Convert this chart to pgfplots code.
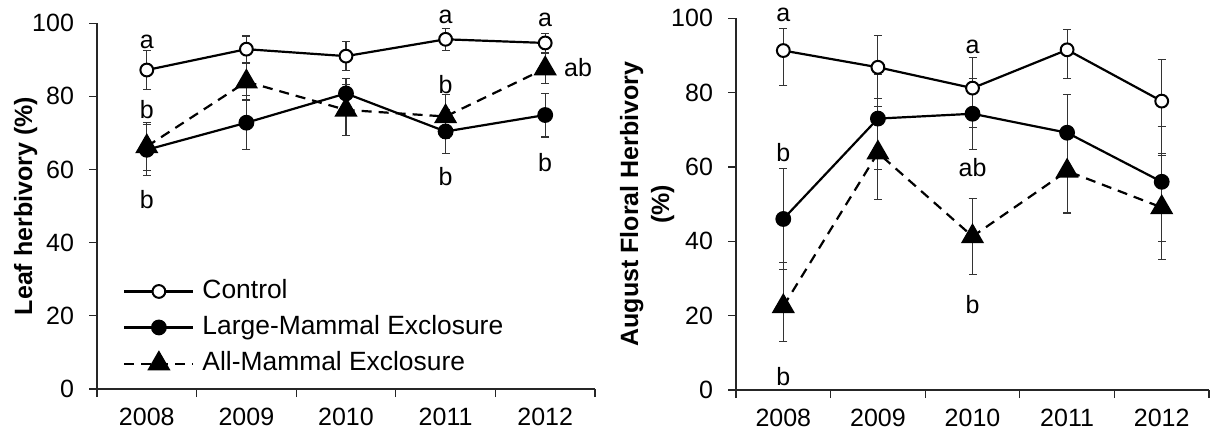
\documentclass[border=0pt]{standalone}
\usepackage{fontspec}
\setmainfont{Liberation Sans}
\usepackage{pgfplots}
\usepackage{pgfplotstable}
\pgfplotsset{compat=1.18}

% Leaf herbivory: x, mean, SE
\pgfplotstableread{
x y e
0 87.2 5.4
1 92.9 3.6
2 91.0 4.0
3 95.6 3.0
4 94.6 2.7
}\leafC
\pgfplotstableread{
x y e
0 65.4 7.0
1 72.8 7.4
2 80.8 4.0
3 70.4 6.0
4 74.9 6.0
}\leafL
\pgfplotstableread{
x y e
0 66.3 6.5
1 84.0 5.0
2 76.3 7.0
3 74.5 6.0
4 87.6 4.0
}\leafA
% August floral herbivory: x, mean, +err, -err
\pgfplotstableread{
x y ep em
0 91.3 6.0 9.4
1 86.8 8.5 8.5
2 81.2 8.2 10.5
3 91.5 5.4 7.6
4 77.7 11.3 14.0
}\florC
\pgfplotstableread{
x y ep em
0 46.0 13.6 13.7
1 73.0 11.8 13.6
2 74.3 9.5 9.5
3 69.2 10.3 10.3
4 56.0 14.8 16.1
}\florL
\pgfplotstableread{
x y ep em
0 22.5 11.8 9.5
1 63.8 12.5 12.5
2 41.3 10.3 10.3
3 58.9 11.3 11.3
4 49.1 14.0 14.0
}\florA

\newcommand{\chartfont}{\fontsize{12.5}{15.5}\selectfont}
\newcommand{\legfont}{\fontsize{13.2}{15.5}\selectfont}

\pgfplotsset{
  panel/.style={
    scale only axis,
    clip=false,
    axis x line*=bottom, axis y line*=left,
    axis line style={line width=0.6pt, black!85},
    xmin=-0.5, xmax=4.5, ymin=0, ymax=100,
    ytick={0,20,...,100},
    xtick={-0.5,0.5,...,4.5}, xticklabels={},
    extra x ticks={0,1,2,3,4},
    extra x tick labels={2008,2009,2010,2011,2012},
    extra x tick style={major tick length=0pt, xticklabel style={yshift=-6pt}},
    tick align=outside,
    major tick length=4pt,
    tick style={line width=0.6pt, black!85},
    tick label style={font=\chartfont, black},
    /pgf/number format/assume math mode=true,
    yticklabel style={xshift=-4pt},
    every axis y label/.style={rotate=90, anchor=center, font=\chartfont\bfseries, align=center},
    legend image code/.code={\draw[mark repeat=2,mark phase=2] plot coordinates {(0pt,0pt) (17.25pt,0pt) (34.5pt,0pt)};},
  },
  ctrl/.style={black, line width=1.1pt, mark=*, mark size=3.2pt, mark options={fill=white, solid, line width=1pt}},
  large/.style={black, line width=1.1pt, mark=*, mark size=3.4pt, mark options={fill=black, solid}},
  allm/.style={black, line width=1.1pt, dash pattern=on 5pt off 3.5pt, mark=triangle*, mark size=5.6pt, mark options={fill=black, solid}},
  eb/.style={error bars/.cd, y dir=both, y explicit,
    error bar style={line width=0.55pt, black!80, solid},
    error mark options={rotate=90, mark size=2pt, line width=0.55pt, black!80, solid}},
}

\begin{document}
\begin{tikzpicture}
\useasboundingbox (0,0) rectangle (609.5pt,218pt);

% ---------------- Left panel ----------------
\begin{axis}[panel,
  at={(48.5pt,23.5pt)}, anchor=south west,
  width=249pt, height=182.9pt,
  ylabel={Leaf herbivory (\%)},
  every axis y label/.append style={at={(axis description cs:-0.143,0.5)}},
  legend cell align=left,
  legend style={draw=none, fill=none, at={(0.052,0.168)}, anchor=west,
    inner sep=0pt, row sep=7pt, font=\legfont,
    nodes={inner sep=0pt, text height=8.8pt, text depth=2.2pt},
    /tikz/every odd column/.append style={column sep=4pt}},
]
\addplot[ctrl, eb] table[x=x, y=y, y error=e]{\leafC};
\addlegendentry{Control}
\addplot[large, eb] table[x=x, y=y, y error=e]{\leafL};
\addlegendentry{Large-Mammal Exclosure}
\addplot[allm, eb] table[x=x, y=y, y error=e]{\leafA};
\addlegendentry{All-Mammal Exclosure}

\begin{scope}[every node/.style={font=\chartfont}]
\node at (axis cs:0,94.9) {a};
\node at (axis cs:0,76.3) {b};
\node at (axis cs:0,51.7) {b};
\node at (axis cs:3,101.7) {a};
\node at (axis cs:3,83.1) {b};
\node at (axis cs:3,58.0) {b};
\node at (axis cs:4,100.9) {a};
\node at (axis cs:4.33,87.8) {ab};
\node at (axis cs:4,61.8) {b};
\end{scope}
\end{axis}

% ---------------- Right panel ----------------
\begin{axis}[panel,
  at={(368pt,23pt)}, anchor=south west,
  width=236.5pt, height=185.9pt,
  ylabel={August Floral Herbivory\\(\%)},
  every axis y label/.append style={at={(axis description cs:-0.188,0.5)}},
]
\addplot[ctrl, eb] table[x=x, y=y, y error plus=ep, y error minus=em]{\florC};
\addplot[large, eb] table[x=x, y=y, y error plus=ep, y error minus=em]{\florL};
\addplot[allm, eb] table[x=x, y=y, y error plus=ep, y error minus=em]{\florA};

\begin{scope}[every node/.style={font=\chartfont}]
\node at (axis cs:0,100.9) {a};
\node at (axis cs:0,63.8) {b};
\node at (axis cs:0,3.6) {b};
\node at (axis cs:2,92.4) {a};
\node at (axis cs:2,59.7) {ab};
\node at (axis cs:2,22.9) {b};
\end{scope}
\end{axis}
\end{tikzpicture}
\end{document}
